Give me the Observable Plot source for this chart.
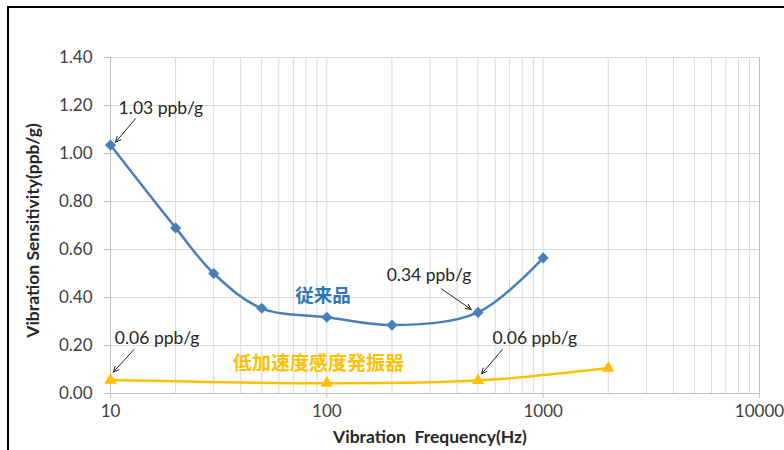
<!DOCTYPE html>
<html>
<head>
<meta charset="utf-8">
<script src="https://cdn.jsdelivr.net/npm/d3@7"></script>
<script src="https://cdn.jsdelivr.net/npm/@observablehq/plot@0.6"></script>
<style>
  html, body { margin: 0; padding: 0; background: #fff; overflow: hidden; }
  #wrap { position: relative; width: 784px; height: 450px; }
  #frame { position: absolute; left: 7px; top: 6px; width: 900px; height: 600px;
           border-top: 2px solid #000; border-left: 2px solid #000; pointer-events: none; }
  #chart { position: absolute; left: 0; top: 0; }
</style>
</head>
<body>
<div id="wrap"><div id="chart"></div><div id="frame"></div></div>
<script>
// Series: conventional product (従来品)
const blueFreq = [10, 20, 30, 50, 100, 200, 500, 1000];
const blueSens = [1.035, 0.69, 0.50, 0.355, 0.318, 0.285, 0.338, 0.565];
// Series: low acceleration sensitivity oscillator (低加速度感度発振器)
const orangeFreq = [10, 100, 500, 2000];
const orangeSens = [0.056, 0.043, 0.054, 0.106];

// Axis ticks
const xTickValues = [10, 100, 1000, 10000];
const xGridValues = [10,20,30,40,50,60,70,80,90,100,200,300,400,500,600,700,800,900,1000,2000,3000,4000,5000,6000,7000,8000,9000,10000];
const yTickValues = [0, 0.2, 0.4, 0.6, 0.8, 1.0, 1.2, 1.4];

// Annotations (text at x,y; arrow from x1,y1 to x2,y2)
const annoText = ["1.03 ppb/g", "0.34 ppb/g", "0.06 ppb/g", "0.06 ppb/g"];
const annoX = [10.9, 189, 10.47, 583];
const annoY = [1.1875, 0.492, 0.228, 0.230];
const arrowX1 = [13.05, 339, 12.8, 647];
const arrowY1 = [1.145, 0.436, 0.182, 0.182];
const arrowX2 = [10.55, 465, 10.3, 519];
const arrowY2 = [1.047, 0.35, 0.089, 0.082];

// Series labels
const seriesLabels = ["従来品", "低加速度感度発振器"];
const seriesLabelX = [96, 91.4];
const seriesLabelY = [0.408, 0.125];
const seriesLabelColors = ["#2E75B6", "#FFC000"];
const seriesLabelSizes = [18.5, 19];

const xTitle = "Vibration\u00a0 Frequency(Hz)";
const yTitle = "Vibration Sensitivity(ppb/g)";

const blue = blueFreq.map((f, i) => ({f, v: blueSens[i]}));
const orange = orangeFreq.map((f, i) => ({f, v: orangeSens[i]}));
const annos = annoText.map((t, i) => ({t, x: annoX[i], y: annoY[i]}));
const arrows = arrowX1.map((x1, i) => ({x1, y1: arrowY1[i], x2: arrowX2[i], y2: arrowY2[i]}));
const labels = seriesLabels.map((t, i) => ({t, x: seriesLabelX[i], y: seriesLabelY[i], c: seriesLabelColors[i], s: seriesLabelSizes[i]}));

const BLUE = "#4A7EBB", GOLD = "#FFC000", GRID = "#d9d9d9", AXIS = "#bfbfbf", INK = "#262626";

const chart = Plot.plot({
  width: 784, height: 450,
  marginLeft: 110, marginRight: 25, marginTop: 57, marginBottom: 57,
  style: {fontFamily: "Lato, 'Noto Sans', sans-serif", fontSize: "17px", background: "transparent", overflow: "visible"},
  x: {type: "log", domain: [10, 10000]},
  y: {domain: [0, 1.4]},
  marks: [
    Plot.ruleX(xGridValues, {stroke: GRID, strokeWidth: 1}),
    Plot.ruleY(yTickValues, {stroke: GRID, strokeWidth: 1}),
    Plot.ruleX([10, 10000], {stroke: AXIS}),
    Plot.ruleY([0], {stroke: AXIS}),
    Plot.axisY({ticks: yTickValues, tickFormat: d => d.toFixed(2), tickSize: 6, tickPadding: 12, stroke: AXIS, fill: "#404040", label: null, fontSize: 17}),
    Plot.axisX({ticks: xTickValues, tickFormat: d => String(d), tickSize: 5, tickPadding: 6, stroke: AXIS, fill: "#404040", label: null, fontSize: 17}),
    Plot.line(blue, {x: "f", y: "v", stroke: BLUE, strokeWidth: 2.5, curve: "catmull-rom"}),
    Plot.dot(blue, {x: "f", y: "v", symbol: "diamond2", r: 5, fill: BLUE, stroke: "none"}),
    Plot.line(orange, {x: "f", y: "v", stroke: GOLD, strokeWidth: 2.5, curve: "catmull-rom"}),
    Plot.dot(orange, {x: "f", y: "v", symbol: "triangle", r: 4.6, fill: GOLD, stroke: "none"}),
    Plot.arrow(arrows, {x1: "x1", y1: "y1", x2: "x2", y2: "y2", stroke: INK, strokeWidth: 1, headLength: 9, headAngle: 50}),
    Plot.text(annos, {x: "x", y: "y", text: "t", textAnchor: "start", fill: INK, fontSize: 17.5}),
    Plot.text(labels.slice(0, 1), {x: "x", y: "y", text: "t", fill: "c", fontSize: seriesLabelSizes[0], fontWeight: "bold", fontFamily: "'Noto Sans CJK JP', sans-serif"}),
    Plot.text(labels.slice(1), {x: "x", y: "y", text: "t", fill: "c", fontSize: seriesLabelSizes[1], fontWeight: "bold", fontFamily: "'Noto Sans CJK JP', sans-serif"}),
    Plot.text([xTitle], {frameAnchor: "bottom", textAnchor: "middle", lineAnchor: "middle", dy: 44, dx: -5, fontWeight: "bold", fontSize: 17.5, fill: INK}),
    Plot.text([yTitle], {frameAnchor: "left", textAnchor: "middle", lineAnchor: "middle", rotate: -90, dx: -77, dy: 5, fontWeight: "bold", fontSize: 17.5, fill: INK})
  ]
});
document.getElementById("chart").appendChild(chart);
</script>
</body>
</html>
